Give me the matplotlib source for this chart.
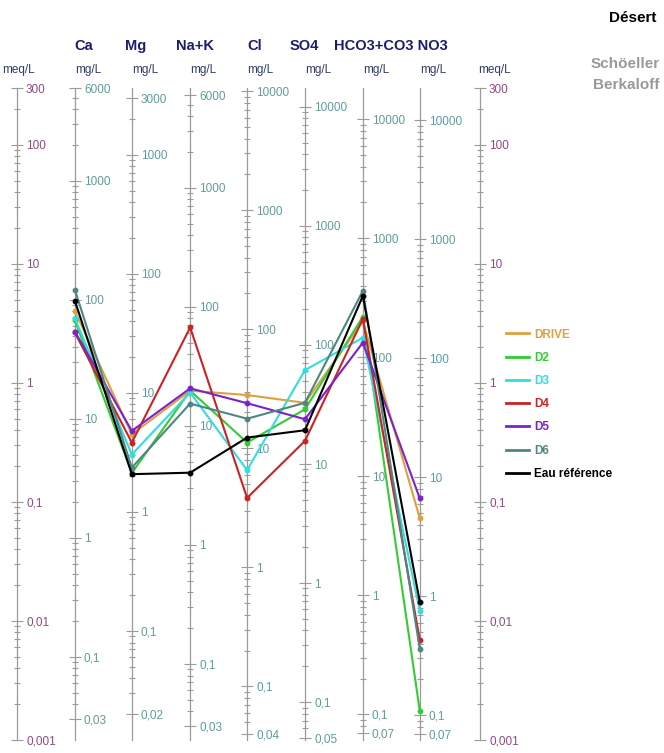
import matplotlib.pyplot as plt
import matplotlib.ticker as mticker
from matplotlib.lines import Line2D
import numpy as np

plt.rcParams['font.family'] = ['Liberation Sans', 'DejaVu Sans']

# columns of the diagram and their equivalent weights (mg per meq)
ions = ['Ca', 'Mg', 'Na+K', 'Cl', 'SO4', 'HCO3+CO3', 'NO3']
eq_weight = [20.04, 12.15, 23.0, 35.45, 48.03, 61.0, 62.0]
col_x = [0.125, 0.248, 0.374, 0.497, 0.622, 0.747, 0.870]

# labelled ticks on each mg/L scale
mg_ticks = [
    [0.03, 0.1, 1, 10, 100, 1000, 6000],
    [0.02, 0.1, 1, 10, 100, 1000, 3000],
    [0.03, 0.1, 1, 10, 100, 1000, 6000],
    [0.04, 0.1, 1, 10, 100, 1000, 10000],
    [0.05, 0.1, 1, 10, 100, 1000, 10000],
    [0.07, 0.1, 1, 10, 100, 1000, 10000],
    [0.07, 0.1, 1, 10, 100, 1000, 10000],
]
meq_ticks = [0.001, 0.01, 0.1, 1, 10, 100, 300]

# samples, meq/L for Ca, Mg, Na+K, Cl, SO4, HCO3+CO3, NO3
samples = ['DRIVE', 'D2', 'D3', 'D4', 'D5', 'D6', 'Eau référence']
drive = [4.0, 0.37, 0.86, 0.79, 0.68, 3.3, 0.073]
d2 = [3.35, 0.175, 0.86, 0.315, 0.60, 3.6, 0.00175]
d3 = [3.5, 0.25, 0.83, 0.185, 1.28, 2.4, 0.0121]
d4 = [2.65, 0.315, 2.92, 0.108, 0.326, 3.45, 0.0069]
d5 = [2.7, 0.395, 0.90, 0.675, 0.495, 2.18, 0.107]
d6 = [6.05, 0.194, 0.67, 0.50, 0.68, 5.93, 0.0058]
ref = [4.9, 0.171, 0.176, 0.347, 0.40, 5.38, 0.0144]
series = [drive, d2, d3, d4, d5, d6, ref]
colors = ['#e0a040', '#33cc33', '#33dddd', '#cc2222', '#7a22cc', '#4f8585', '#000000']

teal = '#5f9c9c'
purple = '#8c4a86'
navy = '#1c1c70'
slate = '#2f3b6a'
grey_line = '#9a9a9a'


def fmt(v):
    return f'{v:g}'.replace('.', ',')


fig = plt.figure(figsize=(6.64, 7.53), dpi=100)
ax = fig.add_axes([17 / 664, 13 / 753, 463 / 664, 652 / 753])
ax.set_yscale('log')
ax.set_ylim(0.001, 300)
ax.set_xlim(0, 1)
for s in ax.spines.values():
    s.set_visible(False)
ax.set_xticks([])
ax.yaxis.set_major_locator(mticker.NullLocator())
ax.yaxis.set_minor_locator(mticker.NullLocator())


def add_scale(pos, w, ticks, tcolor):
    sec = ax.secondary_yaxis(pos, functions=(lambda v, w=w: v * w,
                                             lambda v, w=w: v / w))
    sec.set_alignment('right')
    sec.set_ticks(ticks, [fmt(t) for t in ticks])
    sec.yaxis.set_minor_locator(mticker.LogLocator(base=10, subs=np.arange(2, 10), numticks=40))
    sec.yaxis.set_minor_formatter(mticker.NullFormatter())
    sec.tick_params(which='major', direction='inout', length=9, width=0.8,
                    color=grey_line, labelsize=8.5, labelcolor=tcolor, pad=2)
    sec.tick_params(which='minor', direction='inout', length=5, width=0.8,
                    color=grey_line)
    for s in sec.spines.values():
        s.set_color(grey_line)
        s.set_linewidth(0.9)
    return sec


# meq/L scales on both sides
add_scale(0.0, 1.0, meq_ticks, purple)
add_scale(1.0, 1.0, meq_ticks, purple)
for x, w, t in zip(col_x, eq_weight, mg_ticks):
    add_scale(x, w, t, teal)

for vals, name, c in zip(series, samples, colors):
    ax.plot(col_x, vals, color=c, lw=1.5, marker='o', ms=3.2, label=name)

handles = [Line2D([], [], color=c, lw=2) for c in colors]
ax.legend(handles, samples, loc='upper left',
          bbox_to_anchor=(495 / 664, 1 - 318 / 753),
          bbox_transform=fig.transFigure, frameon=False,
          prop={'weight': 'bold', 'size': 8.5}, labelcolor='linecolor',
          handlelength=2.0, handletextpad=0.4, labelspacing=0.95)

# column headers and units
heads = [('Ca', 74), ('Mg', 125), ('Na+K', 176), ('Cl', 247), ('SO4', 290),
         ('HCO3+CO3 NO3', 334)]
for txt, xp in heads:
    fig.text(xp / 664, 1 - 46 / 753, txt, ha='left', va='center',
             fontsize=10.5, fontweight='bold', color=navy)
for x in col_x:
    xp = 17 + x * 463
    fig.text(xp / 664, 1 - 70 / 753, 'mg/L', ha='left', va='center',
             fontsize=8.5, color=slate)
fig.text(2 / 664, 1 - 70 / 753, 'meq/L', ha='left', va='center', fontsize=8.5, color=slate)
fig.text(478 / 664, 1 - 70 / 753, 'meq/L', ha='left', va='center', fontsize=8.5, color=slate)

fig.text(656 / 664, 1 - 18 / 753, 'Désert', ha='right', va='center',
         fontsize=11, fontweight='bold', color='black')
fig.text(660 / 664, 1 - 64 / 753, 'Schöeller', ha='right', va='center',
         fontsize=11, fontweight='bold', color='#999999')
fig.text(660 / 664, 1 - 85 / 753, 'Berkaloff', ha='right', va='center',
         fontsize=11, fontweight='bold', color='#999999')

fig.savefig('out.png', dpi=100)
